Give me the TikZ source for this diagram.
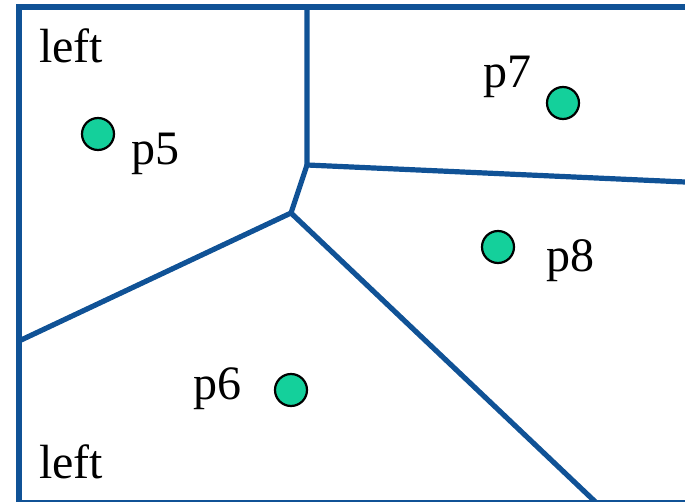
\documentclass[tikz,border=0pt]{standalone}
\usepackage{fontspec}
\setmainfont{Liberation Serif}
\definecolor{edgeblue}{RGB}{16,82,150}
\definecolor{sitegreen}{RGB}{20,208,155}

\begin{document}
\begin{tikzpicture}[x=1pt,y=-1pt,
    edge/.style={edgeblue,line width=5.2pt,line join=miter},
    site/.style={circle,draw=black,line width=2.2pt,fill=sitegreen,minimum size=32pt,inner sep=0pt},
    lbl/.style={anchor=base west,inner sep=0pt,font=\fontsize{48}{56}\selectfont}]
  \useasboundingbox (0,0) rectangle (685,502);
  % outer frame (open on the right, bottom edge partly cut off)
  \coordinate (tr) at (685,7);
  \coordinate (tl) at (19,7);
  \coordinate (bl) at (19,502.5);
  \coordinate (br) at (685,502.5);
  \draw[edge] (tr) -- (tl) -- (bl) -- (br);
  % cell boundaries
  \coordinate (top) at (307,7);
  \coordinate (v1) at (307,165);
  \coordinate (v2) at (291,213);
  \coordinate (east) at (685,182);
  \coordinate (west) at (19,341);
  \coordinate (south) at (596,502.5);
  \draw[edge] (top) -- (v1) -- (east);
  \draw[edge] (v1) -- (v2) -- (west);
  \draw[edge] (v2) -- (south);
  % sites
  \node[site] (p5) at (98,134) {};
  \node[site] (p6) at (291,390) {};
  \node[site] (p7) at (563,103) {};
  \node[site] (p8) at (498,247) {};
  % labels
  \node[lbl] (l5) at (131,165) {p5};
  \node[lbl] (l6) at (193,399) {p6};
  \node[lbl] (l7) at (483,88) {p7};
  \node[lbl] (l8) at (546,272) {p8};
  \node[lbl] (left1) at (39,63) {left};
  \node[lbl] (left2) at (39,478) {left};
\end{tikzpicture}
\end{document}
